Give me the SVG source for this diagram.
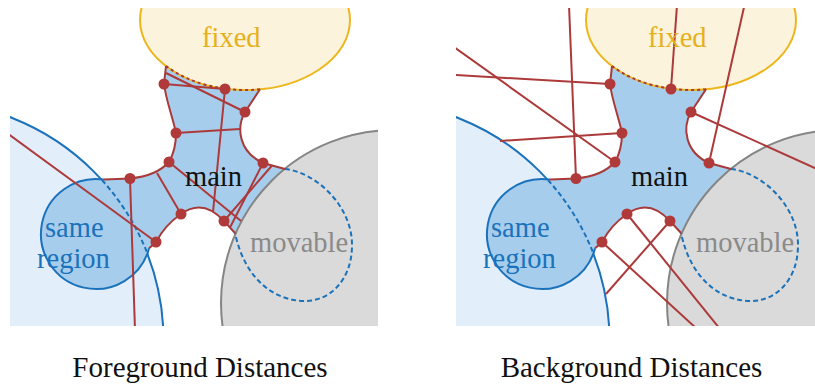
<svg xmlns="http://www.w3.org/2000/svg" xmlns:xlink="http://www.w3.org/1999/xlink" width="815" height="386" viewBox="0 0 815 386">
<style>
.bigc{fill:#e3eefb;stroke:#1a72bb;stroke-width:2}
.mainfill{fill:#a7cdec;stroke:none}
.outline{fill:none;stroke:#a83a3a;stroke-width:2}
.blueline{fill:none;stroke:#1a72bb;stroke-width:2}
.bluedash{fill:none;stroke:#1a72bb;stroke-width:2;stroke-dasharray:5 3}
.gray{fill:#dadada;stroke:#858585;stroke-width:2}
.fixed{fill:#fbf3dc;stroke:#ebb71c;stroke-width:2}
.reddash{fill:none;stroke:#a83a3a;stroke-width:2;stroke-dasharray:3 3}
.conn line{stroke:#ad3a3a;stroke-width:2}
.dot{fill:#b03a3a}
.lbl{font-family:"Liberation Serif","DejaVu Serif",serif;font-size:28.5px}
.cap{font-family:"Liberation Serif","DejaVu Serif",serif;font-size:29px;fill:#111;text-anchor:middle}
</style>
<defs>
<clipPath id="panelclip" clipPathUnits="userSpaceOnUse"><rect x="10" y="8" width="368" height="318"/></clipPath>
<path id="mainShape" d="M 104 179.6 L 130 178.5 C 145 177 160 172 169 162 C 173 155 176 145 176 133 C 172 115 166 100 164 84 L 166 66 A 105 70 0 0 0 260 89.3 L 245 112 C 236 128 239 152 263 163 L 285 169 C 315 172 352 205 352 245 C 352 280 330 301 305 301 C 275 301 245 280 235 233 L 224 221 Q 203 198 181 214 Q 165 225 156 242 L 149.1 248.2 A 55 55 0 1 1 104 179.6 Z"/>
<path id="mainOutline" d="M 104 179.6 L 130 178.5 C 145 177 160 172 169 162 C 173 155 176 145 176 133 C 172 115 166 100 164 84 L 166 66 M 260 89.3 L 245 112 C 236 128 239 152 263 163 L 285 169 M 235 233 L 224 221 Q 203 198 181 214 Q 165 225 156 242 L 149.1 248.2"/>
<g id="dots">
<circle cx="164" cy="84" r="5.5"/><circle cx="225" cy="89" r="5.5"/><circle cx="245" cy="112" r="5.5"/>
<circle cx="176" cy="133" r="5.5"/><circle cx="169" cy="162" r="5.5"/><circle cx="263" cy="163" r="5.5"/>
<circle cx="130" cy="178.5" r="5.5"/><circle cx="181" cy="214" r="5.5"/><circle cx="224" cy="221" r="5.5"/>
<circle cx="156" cy="242" r="5.5"/>
</g>
</defs>

<!-- Left panel: Foreground Distances -->
<g id="panel-fg" clip-path="url(#panelclip)">
  <g id="fg-background-region"><circle class="bigc" cx="-75" cy="340" r="238.5"/></g>
  <g id="fg-main">
    <use xlink:href="#mainShape" class="mainfill"/>
  </g>
  <g id="fg-movable"><circle class="gray" cx="394" cy="303" r="173"/></g>
  <g id="fg-fixed"><ellipse class="fixed" cx="245" cy="20" rx="105" ry="70"/></g>
  <g id="fg-hidden-edges">
    <path class="bluedash" d="M 101.9 180 A 238.5 238.5 0 0 1 147.6 254"/>
    <path class="bluedash" d="M 285 169 C 315 172 352 205 352 245 C 352 280 330 301 305 301 C 275 301 245 280 235 233"/>
    <path class="reddash" d="M 166 66 A 105 70 0 0 0 260 89.3"/>
  </g>
  <g id="fg-same-region"><path class="blueline" d="M 149.1 248.2 A 55 55 0 1 1 104 179.6"/></g>
  <use xlink:href="#mainOutline" class="outline"/>
  <g id="fg-connectors" class="conn">
    <line x1="166" y1="73" x2="245" y2="112"/>
    <line x1="164" y1="84" x2="225" y2="89"/>
    <line x1="225" y1="89" x2="213" y2="212"/>
    <line x1="176" y1="133" x2="240" y2="129"/>
    <line x1="169" y1="162" x2="241" y2="221"/>
    <line x1="263" y1="163" x2="230" y2="227.5"/>
    <line x1="224" y1="221" x2="272" y2="165.5"/>
    <line x1="181" y1="214" x2="157" y2="173"/>
    <line x1="130" y1="178.5" x2="135" y2="330"/>
    <line x1="156" y1="242" x2="5" y2="131.5"/>
  </g>
  <use xlink:href="#dots" class="dot"/>
  <g id="fg-labels" class="lbl">
    <text x="202" y="47" fill="#e6b01c">fixed</text>
    <text x="185" y="186" fill="#111">main</text>
    <text x="45" y="237" fill="#1a72bb">same</text>
    <text x="37" y="268" fill="#1a72bb">region</text>
    <text x="250" y="252" fill="#8a8a8a">movable</text>
  </g>
</g>

<!-- Right panel: Background Distances -->
<g id="panel-bg" transform="translate(446,0)" clip-path="url(#panelclip)">
  <g id="bg-background-region"><circle class="bigc" cx="-75" cy="340" r="238.5"/></g>
  <g id="bg-main">
    <use xlink:href="#mainShape" class="mainfill"/>
  </g>
  <g id="bg-movable"><circle class="gray" cx="394" cy="303" r="173"/></g>
  <g id="bg-fixed"><ellipse class="fixed" cx="245" cy="20" rx="105" ry="70"/></g>
  <g id="bg-hidden-edges">
    <path class="bluedash" d="M 101.9 180 A 238.5 238.5 0 0 1 147.6 254"/>
    <path class="bluedash" d="M 285 169 C 315 172 352 205 352 245 C 352 280 330 301 305 301 C 275 301 245 280 235 233"/>
    <path class="reddash" d="M 166 66 A 105 70 0 0 0 260 89.3"/>
  </g>
  <g id="bg-same-region"><path class="blueline" d="M 149.1 248.2 A 55 55 0 1 1 104 179.6"/></g>
  <use xlink:href="#mainOutline" class="outline"/>
  <g id="bg-connectors" class="conn">
    <line x1="164" y1="84" x2="5" y2="74.7"/>
    <line x1="225" y1="89" x2="231" y2="5"/>
    <line x1="245" y1="112" x2="380" y2="173"/>
    <line x1="176" y1="133" x2="54" y2="141"/>
    <line x1="169" y1="162" x2="5" y2="45"/>
    <line x1="263" y1="163" x2="298.5" y2="5"/>
    <line x1="130" y1="178.5" x2="123" y2="5"/>
    <line x1="181" y1="214" x2="274" y2="329"/>
    <line x1="224" y1="221" x2="160" y2="294"/>
    <line x1="156" y1="242" x2="251" y2="329"/>
  </g>
  <use xlink:href="#dots" class="dot"/>
  <g id="bg-labels" class="lbl">
    <text x="202" y="47" fill="#e6b01c">fixed</text>
    <text x="185" y="186" fill="#111">main</text>
    <text x="45" y="237" fill="#1a72bb">same</text>
    <text x="37" y="268" fill="#1a72bb">region</text>
    <text x="250" y="252" fill="#8a8a8a">movable</text>
  </g>
</g>

<g id="captions">
  <text class="cap" x="200" y="377">Foreground Distances</text>
  <text class="cap" x="631.5" y="377">Background Distances</text>
</g>
</svg>
